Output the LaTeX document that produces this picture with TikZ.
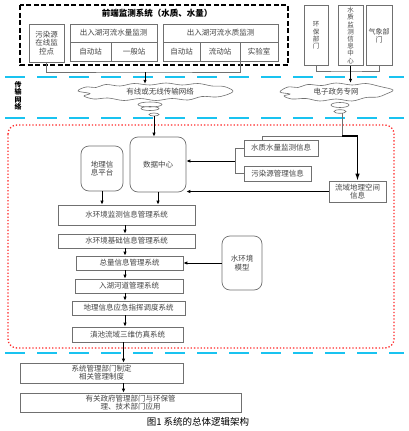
\documentclass[tikz,border=0pt]{standalone}
\usepackage{fontspec}
\setmainfont{Noto Sans CJK SC}
\usetikzlibrary{arrows.meta}
\definecolor{ink}{HTML}{444444}
\definecolor{frame}{HTML}{707070}
\definecolor{sky}{HTML}{19C3F0}
\definecolor{alarm}{HTML}{FF2A2A}

\begin{document}
\begin{tikzpicture}[x=1pt,y=-1pt,
  box/.style={draw=frame,line width=.7pt,text=ink,font=\fontsize{7.5}{8.5}\selectfont,align=center,inner sep=1pt},
  rbox/.style={box,rounded corners=8pt},
  tall/.style={box,minimum height=60,font=\fontsize{6.5}{7.2}\selectfont,anchor=north},
  arr/.style={-{Latex[length=4pt,width=3.5pt]},line width=.9pt},
  wire/.style={frame,line width=.8pt},
  net/.style={sky,line width=2.6pt,dash pattern=on 20pt off 12pt},
  puff/.style={draw=frame,line width=.6pt},
  cloudtext/.style={text=ink,font=\fontsize{7.5}{8.5}\selectfont,inner sep=0pt}]
\useasboundingbox (0,0) rectangle (409,431);
\fill[white] (0,0) rectangle (409,431);
\draw[black,line width=1.3pt,dash pattern=on 5pt off 2.5pt] (20,5) rectangle (288,65);
\node[font=\bfseries\fontsize{8.5}{9.5}\selectfont] (title) at (157,13.5) {前端监测系统（水质、水量）};
\node[box,minimum width=35,minimum height=38] (wry) at (46.5,43) {污染源\\在线监\\控点};
\node[box,minimum width=87,minimum height=18] (slj) at (113.5,33) {出入湖河流水量监测};
\node[box,minimum width=41,minimum height=19] (zd1) at (90.5,51.5) {自动站};
\node[box,minimum width=46,minimum height=19] (yb) at (134,51.5) {一般站};
\node[box,minimum width=115,minimum height=18] (szj) at (220.5,33) {出入湖河流水质监测};
\node[box,minimum width=37,minimum height=19] (zd2) at (181.5,51.5) {自动站};
\node[box,minimum width=40,minimum height=19] (ld) at (220,51.5) {流动站};
\node[box,minimum width=38,minimum height=19] (sys) at (259,51.5) {实验室};
\node[tall,minimum width=24] (hb) at (316,5) {环\\保\\部\\门};
\node[tall,minimum width=25] (sjzx) at (350.5,5) {水\\质\\监\\测\\信\\息\\中\\心};
\node[tall,minimum width=26,font=\fontsize{7}{8}\selectfont] (qx) at (379,5) {气象部\\门};
\draw[net] (5,77) -- (404,77);
\draw[net] (5,118) -- (404,118);
\draw[net] (5,353) -- (404,353);
\node[font=\bfseries\fontsize{7}{7.5}\selectfont,align=center] (csw) at (18,96) {传\\输\\网\\络};
\draw[puff] plot[smooth cycle,tension=.6] coordinates {(78,91) (86,87) (96,87.5) (106,84.5) (120,86) (134,83.5) (150,85) (166,83) (182,85) (198,83.5) (212,86) (224,86.5) (233,91)
  (226,95) (216,97) (202,96.5) (188,100) (172,98.5) (156,100.5) (140,98.5) (124,100.5) (108,98) (94,99) (84,96) (90,93.5)};
\draw[puff] plot[smooth cycle,tension=.6] coordinates {(280,92) (288,87) (298,87.5) (308,84.5) (322,85.5) (336,83) (352,85) (366,83.5) (380,86.5) (393,90)
  (386,94) (378,97) (366,97.5) (352,101) (336,99) (320,101) (306,98.5) (292,99) (284,96) (290,94)};
\node[cloudtext,minimum width=150,minimum height=16] (yx) at (160,92) {有线或无线传输网络};
\node[cloudtext,minimum width=110,minimum height=18] (dz) at (336,92) {电子政务专网};
\draw[puff] (150,104.5) ellipse (12 and 2.5) (150,108.5) ellipse (9 and 2) (154,114.5) ellipse (5 and 1.5);
\draw[puff] (340,105) ellipse (9 and 2.5) (340,111.5) ellipse (6 and 1.8);
\coordinate (j1) at (145,72);
\coordinate (j2) at (345,71);
\draw[wire] (wry.south) |- (j1) -| (ld.south east);
\draw[arr] (j1) -- (j1 |- yx.north);
\draw[wire] (hb.south) |- (j2) -| (qx.south);
\draw[arr] (sjzx.south) -- (sjzx.south |- dz.north);
\draw[alarm,line width=1.3pt,dotted,rounded corners=9pt] (8,125) rectangle (394,348);
\node[rbox,minimum width=42,minimum height=45] (dl) at (102,168.5) {地理信\\息平台};
\node[rbox,minimum width=56,minimum height=55] (dc) at (158,164.5) {数据中心};
\node[box,minimum width=74,minimum height=16] (szsl) at (281,148) {水质水量监测信息};
\node[box,minimum width=67,minimum height=15] (wrgl) at (277.5,173.5) {污染源管理信息};
\node[box,minimum width=57,minimum height=21,font=\fontsize{7.5}{8}\selectfont] (lydl) at (357.5,191.5) {流域地理空间\\信息};
\coordinate (e1) at (154,116);
\coordinate (e2) at (342,113);
\coordinate (j3) at (342,136);
\coordinate (j4) at (235,161);
\draw[arr] (e1) -- (e1 |- dc.north);
\draw[wire] (e2) -- (j3) -| ([xshift=-19pt]szsl.north);
\draw[line width=1.2pt,-{Latex[length=7pt,width=4.5pt]}] (j3) -| (lydl.north);
\draw[wire] (szsl.west) -| (j4);
\draw[wire] (wrgl.west) -| (j4);
\draw[arr] (j4) -- (j4 -| dc.east);
\draw[arr] (lydl.west) -- (lydl.west -| dc.east);
\node[box,minimum width=137,minimum height=20] (jcxt) at (126.5,215) {水环境监测信息管理系统};
\node[box,minimum width=137,minimum height=14] (jc) at (126.5,241) {水环境基础信息管理系统};
\node[box,minimum width=107,minimum height=14] (zl) at (129.5,263) {总量信息管理系统};
\node[box,minimum width=108,minimum height=14] (rh) at (129,286) {入湖河道管理系统};
\node[box,minimum width=113,minimum height=14] (yj) at (128.5,308) {地理信息应急指挥调度系统};
\node[box,minimum width=111,minimum height=15] (fz) at (127.5,334.5) {滇池流域三维仿真系统};
\node[rbox,minimum width=40,minimum height=54] (mx) at (242,263) {水环境\\模型};
\draw[arr] (dl.south) -- (dl.south |- jcxt.north);
\draw[arr] (dc.south) -- (dc.south |- jcxt.north);
\foreach \a/\b in {jcxt/jc,jc/zl,zl/rh,rh/yj,yj/fz}
  \draw[arr] ([xshift=-1.5pt]jcxt.south |- \a.south) -- ([xshift=-1.5pt]jcxt.south |- \b.north);
\draw[arr] (mx.west) -- (zl.east);
\node[box,minimum width=163,minimum height=20,font=\fontsize{7.5}{8}\selectfont] (gl) at (101.5,373) {系统管理部门制定\\相关管理制度};
\node[box,minimum width=221,minimum height=19,font=\fontsize{7.5}{8}\selectfont] (yy) at (130.5,402.5) {有关政府管理部门与环保管\\理、技术部门应用};
\draw[arr] ([xshift=-4pt]fz.south) -- ([xshift=-4pt]fz.south |- gl.north);
\draw[arr] ([xshift=-4pt]fz.south |- gl.south) -- ([xshift=-4pt]fz.south |- yy.north);
\node[font=\fontsize{9.5}{10}\selectfont] (cap) at (198,422) {图1\ 系统的总体逻辑架构};
\end{tikzpicture}
\end{document}
